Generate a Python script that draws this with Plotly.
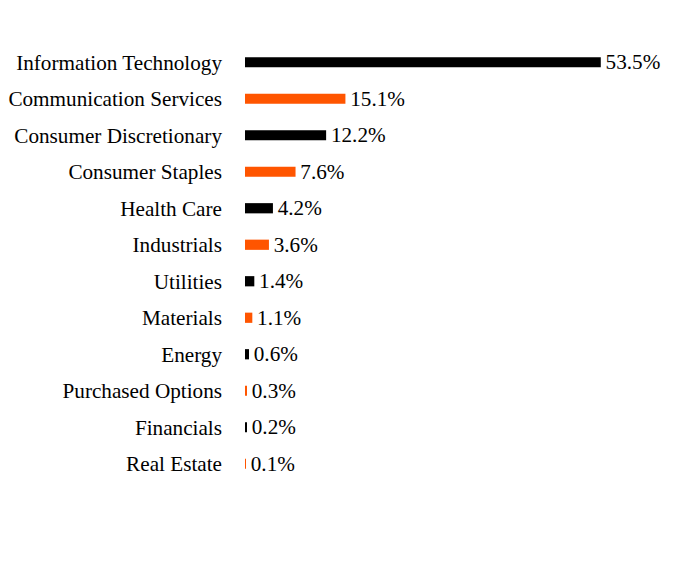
import plotly.graph_objects as go

categories = ["Information Technology", "Communication Services", "Consumer Discretionary",
              "Consumer Staples", "Health Care", "Industrials", "Utilities", "Materials",
              "Energy", "Purchased Options", "Financials", "Real Estate"]
values = [53.5, 15.1, 12.2, 7.6, 4.2, 3.6, 1.4, 1.1, 0.6, 0.3, 0.2, 0.1]
colors = ["#000000" if i % 2 == 0 else "#FF5500" for i in range(len(values))]

FONT = "Liberation Serif, Times New Roman, serif"

fig = go.Figure(go.Bar(
    x=values, y=categories, orientation="h",
    marker=dict(color=colors, line=dict(width=0)),
    width=0.28,
    text=[f"\u200a{v:.1f}%" for v in values],
    textposition="outside",
    constraintext="none",
    textfont=dict(family=FONT, size=21.2, color="#000000"),
    cliponaxis=False,
))

fig.update_layout(
    width=696, height=564,
    margin=dict(l=245, r=52, t=44, b=82, autoexpand=False),
    paper_bgcolor="white", plot_bgcolor="white",
    font=dict(family=FONT, size=21.2, color="#000000"),
    showlegend=False,
    xaxis=dict(range=[0, 60], visible=False, showgrid=False, zeroline=False, automargin=False),
    yaxis=dict(autorange=False, range=[11.5, -0.5], categoryorder="array", categoryarray=categories,
               showgrid=False, zeroline=False, showline=False, ticks="", automargin=False,
               ticklabelstandoff=22,
               tickfont=dict(family=FONT, size=21.2, color="#000000")),
)

fig.write_html("out.html")
